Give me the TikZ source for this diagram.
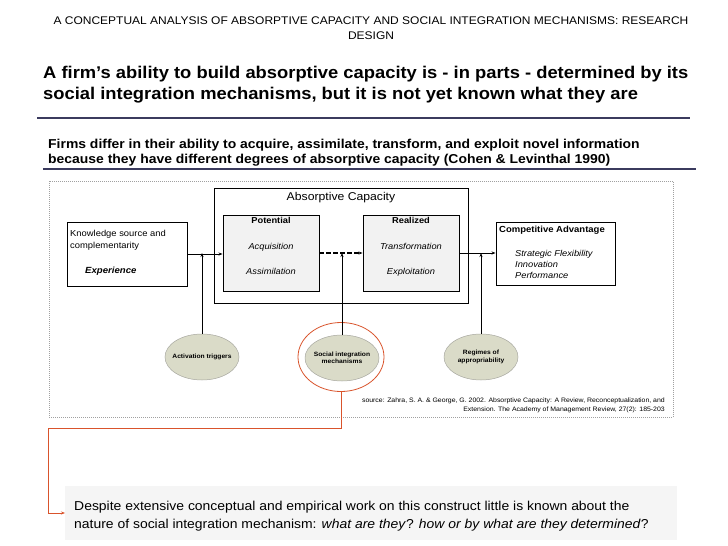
\documentclass[tikz,border=0pt]{standalone}
\usepackage{fontspec}
\setmainfont{Liberation Sans}[FakeStretch=1.08]
\usetikzlibrary{arrows.meta,shapes.geometric}
\definecolor{navy}{HTML}{3B3B5E}
\definecolor{framegray}{HTML}{A0A0A0}
\definecolor{boxfill}{HTML}{F2F2F2}
\definecolor{ellfill}{HTML}{DADBC8}
\definecolor{ellline}{HTML}{A8A8A0}
\definecolor{redline}{HTML}{D9542C}
\definecolor{notefill}{HTML}{F5F5F5}
\newcommand{\zw}[1]{\makebox[0pt]{#1}}
\begin{document}
\begin{tikzpicture}[x=1pt,y=-1pt,
  txt/.style={inner sep=0pt, anchor=base west},
  ctxt/.style={inner sep=0pt, anchor=base},
  plainbox/.style={draw, line width=0.9pt, fill=white, inner sep=0pt},
  innerbox/.style={draw, line width=0.9pt, fill=boxfill, inner sep=0pt, minimum width=96pt, minimum height=76pt},
  frm/.style={draw=framegray, line width=0.6pt, dash pattern=on 1pt off 1pt, inner sep=0pt},
  ell/.style={ellipse, draw=ellline, line width=0.5pt, fill=ellfill, inner sep=0pt, minimum width=74pt, minimum height=46pt, align=center, font=\fontsize{6.2}{7.5}\selectfont\bfseries},
  arr/.style={line width=0.8pt, -{Stealth[length=4pt,width=3pt]}},
  redarr/.style={draw=redline, line width=0.8pt, -{Stealth[length=4pt,width=3pt]}},
  lbl/.style={font=\fontsize{8.7}{10}\selectfont},
  lblb/.style={font=\fontsize{8.6}{10}\selectfont\bfseries},
  lbli/.style={font=\fontsize{8.6}{10}\selectfont\itshape}
]
\path[use as bounding box, fill=white] (0,0) rectangle (728,546);

% titles
\node[ctxt, font=\fontsize{11.1}{13}\selectfont] (t1) at (371,24) {A CONCEPTUAL ANALYSIS OF ABSORPTIVE CAPACITY AND SOCIAL INTEGRATION MECHANISMS: RESEARCH};
\node[ctxt, font=\fontsize{11.1}{13}\selectfont] (t2) at (371,39) {DESIGN};
\node[txt, font=\fontsize{17}{20}\selectfont\bfseries] (h1) at (43,78) {A firm’s ability to build absorptive capacity is - in parts - determined by its};
\node[txt, font=\fontsize{17}{20}\selectfont\bfseries] (h2) at (43,99) {social integration mechanisms, but it is not yet known what they are};
\draw[navy, line width=2.4pt] (37,118) coordinate (r1a) -- (690,118) coordinate (r1b);
\node[txt, font=\fontsize{12.9}{15}\selectfont\bfseries] (s1) at (48,148) {Firms differ in their ability to acquire, assimilate, transform, and exploit novel information};
\node[txt, font=\fontsize{12.9}{15}\selectfont\bfseries] (s2) at (48,163) {because they have different degrees of absorptive capacity (Cohen \& Levinthal 1990)};
\draw[navy, line width=1.3pt] (43,169) coordinate (r2a) -- (696,169) coordinate (r2b);

% frame
\node[frm, minimum width=624pt, minimum height=236pt] (frame) at (361,299) {};

% boxes
\node[plainbox, minimum width=254pt, minimum height=115pt] (ac) at (341,245.5) {};
\node[ctxt, font=\fontsize{11.3}{12}\selectfont] (actitle) at (341,200.5) {Absorptive Capacity};
\node[innerbox] (pot) at (271,253) {};
\node[innerbox] (real) at (411,253) {};
\node[plainbox, minimum width=120pt, minimum height=64pt] (know) at (127,254) {};
\node[plainbox, minimum width=119pt, minimum height=63pt] (comp) at (555.5,253.5) {};

% box texts
\node[ctxt, lblb] (potl) at (271,223) {Potential};
\node[ctxt, lbli] (acq) at (271,249) {Acquisition};
\node[ctxt, lbli] (ass) at (271,274) {Assimilation};
\node[ctxt, lblb] (reall) at (411,223) {Realized};
\node[ctxt, lbli] (trf) at (411,249) {Transformation};
\node[ctxt, lbli] (exp) at (411,274) {Exploitation};
\node[txt, lbl] (k1) at (70,236) {Knowledge source and};
\node[txt, lbl] (k2) at (70,248) {complementarity};
\node[txt, font=\fontsize{8.9}{10}\selectfont\bfseries\itshape] (k3) at (85,273) {Experience};
\node[txt, font=\fontsize{8.8}{10}\selectfont\bfseries] (c1) at (499,232) {Competitive Advantage};
\node[txt, lbli] (c2) at (515,256) {Strategic Flexibility};
\node[txt, lbli] (c3) at (515,267) {Innovation};
\node[txt, lbli] (c4) at (515,278) {Performance};

% horizontal arrows
\draw[arr] (know.east) -- (know.east -| pot.west);
\draw[arr, dash pattern=on 4.5pt off 2.5pt, line width=1.3pt] (pot.east) -- (real.west);
\draw[arr] (real.east) -- (real.east -| comp.west);

% ellipses
\node[ell] (act) at (202,357) {\zw{Activation triggers}};
\node[ell] (soc) at (342,358) {\zw{Social integration}\\\zw{mechanisms}};
\node[ell] (reg) at (481,357) {\zw{Regimes of}\\\zw{appropriability}};
\node[ellipse, draw=redline, line width=0.8pt, minimum width=86pt, minimum height=69pt, inner sep=0pt] (ring) at (341,357) {};

% vertical arrows
\draw[arr] (act.north) -- (act.north |- pot.west);
\draw[arr] (soc.north) -- (soc.north |- pot.west);
\draw[arr] (reg.north) -- (reg.north |- real.east);

% source
\node[inner sep=0pt, anchor=base east, font=\fontsize{6.4}{8}\selectfont] (src1) at (665,402) {source: Zahra, S. A. \& George, G. 2002. Absorptive Capacity: A Review, Reconceptualization, and};
\node[inner sep=0pt, anchor=base east, font=\fontsize{6.4}{8}\selectfont] (src2) at (665,411) {Extension. The Academy of Management Review, 27(2): 185-203};

% note
\node[fill=notefill, anchor=west, minimum width=612pt, minimum height=54pt, inner sep=0pt] (note) at (65,513) {};
\node[txt, font=\fontsize{12.9}{15}\selectfont] (n1) at (74,510) {Despite extensive conceptual and empirical work on this construct little is known about the};
\node[txt, font=\fontsize{12.9}{15}\selectfont] (n2) at (74,528) {nature of social integration mechanism: \textit{what are they}? \textit{how or by what are they determined}?};

% red connector
\coordinate (rc) at (48,428);
\draw[redarr] (ring.south) |- (rc) |- (note.west);
\end{tikzpicture}
\end{document}
